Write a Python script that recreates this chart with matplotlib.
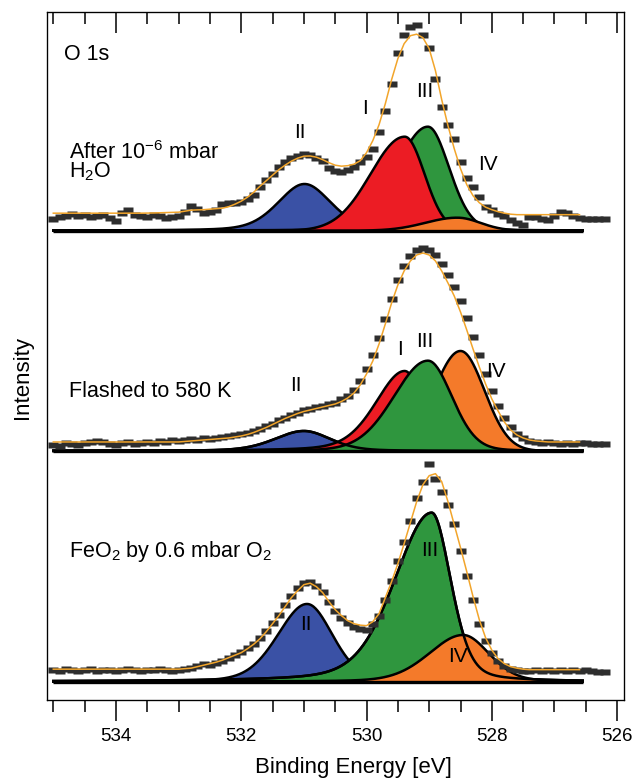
import numpy as np
import matplotlib.pyplot as plt
from matplotlib.ticker import MultipleLocator

plt.rcParams['font.family'] = ['Liberation Sans', 'DejaVu Sans']
plt.rcParams['mathtext.fontset'] = 'custom'
plt.rcParams['mathtext.rm'] = 'Liberation Sans'
plt.rcParams['mathtext.default'] = 'regular'

# measured points: 535.0 -> 526.2 eV in 0.1 eV steps, fit: 535.0 -> 526.6 eV
be_data = np.round(np.arange(535.0, 526.15, -0.1), 1)
be_fit = np.round(np.arange(535.0, 526.55, -0.1), 1)

# intensities above each spectrum's own baseline (arb. units)
top_data = [12, 14, 15, 17, 15, 16, 14, 15, 16, 13,
            10, 18, 21, 16, 15, 14, 16, 15, 13, 14,
            15, 19, 25, 22, 18, 19, 21, 27, 28, 28,
            29, 32, 36, 44, 51, 57, 64, 69, 73, 75,
            77, 76, 73, 70, 63, 60, 59, 61, 64, 69,
            74, 82, 99, 120, 147, 178, 196, 204, 206, 196,
            183, 152, 124, 106, 92, 69, 53, 44, 34, 24,
            21, 17, 15, 11, 8, 6, 14, 14, 12, 11,
            15, 19, 18, 15, 13, 12, 12, 12, 12]
top_fit = [17.5, 17.5, 17.5, 17.5, 17.5, 17.5, 17.5, 17.5, 17.5, 17.5,
           17.5, 17.5, 17.5, 17.5, 17.5, 17.6, 17.7, 17.9, 18.1, 18.3,
           18.5, 19.5, 20.5, 20.8, 21, 21.5, 22, 22.5, 24, 26.5,
           29.5, 33.5, 38.5, 44.5, 50, 55.5, 61, 65.5, 69.5, 72.5,
           74.5, 74.7, 73.5, 71, 68, 65.5, 64.5, 65, 66.5, 70,
           78, 90, 106, 127, 151, 172, 187, 195, 196.5, 193,
           182, 160, 131, 105, 82, 62, 46, 35, 28, 23.5,
           21, 19, 17.5, 16.5, 16, 16, 16, 16, 16, 16,
           16, 16, 16, 16, 16]

mid_data = [6, 5, 8, 7, 6, 8, 9, 10, 9, 7,
            6, 8, 9, 7, 8, 9, 8, 10, 9, 11,
            10, 11, 12, 11, 13, 12, 13, 14, 15, 16,
            17, 18, 20, 22, 25, 27, 31, 33, 36, 38,
            41, 42, 44, 45, 47, 48, 52, 55, 61, 70,
            82, 96, 113, 132, 152, 171, 185, 195, 201, 203,
            201, 196, 187, 176, 164, 150, 133, 114, 96, 77,
            60, 45, 33, 24, 17, 13, 10, 9, 8, 9,
            8, 7, 8, 7, 8, 8, 7, 7, 7]
mid_fit = [9, 9, 9, 9, 9, 9, 9, 9, 9, 9,
           9, 9, 9, 9, 9, 9, 9, 9, 9, 9,
           9, 9.5, 10, 10.5, 11, 11.5, 12, 12.5, 13, 14,
           15, 16.5, 18.5, 21, 23.5, 26.5, 29.5, 32.5, 35, 37.5,
           39.5, 41, 42.5, 44, 45.5, 47, 49.5, 53, 58, 66,
           77, 90, 107, 127, 148, 166, 180, 190, 196, 198,
           196, 190, 180, 168, 155, 139, 121, 102, 84, 67,
           52, 40, 29, 21, 16, 13, 11, 10, 9.5, 9,
           9, 9, 9, 9, 9]

bot_data = [12, 11, 13, 12, 11, 12, 13, 11, 12, 12,
            11, 12, 13, 12, 11, 12, 12, 13, 12, 11,
            12, 13, 14, 16, 18, 17, 19, 21, 24, 27,
            30, 34, 38, 44, 51, 59, 67, 77, 86, 94,
            99, 100, 96, 90, 80, 71, 64, 59, 55, 53,
            52, 58, 66, 82, 101, 121, 140, 161, 184, 200,
            218, 203, 190, 177, 158, 131, 106, 82, 58, 41,
            29, 21, 16, 13, 12, 11, 11, 12, 11, 12,
            11, 12, 11, 12, 11, 12, 11, 10, 10]
bot_fit = [12.5, 12.5, 12.5, 12.5, 12.5, 12.5, 12.5, 12.5, 12.5, 12.5,
           12.5, 12.5, 12.5, 12.5, 12.5, 12.5, 12.5, 12.5, 12.5, 12.5,
           12.5, 13, 13.5, 15, 16.5, 18, 19.5, 21.5, 24, 26.5,
           29, 33, 37.5, 43, 50, 58, 66, 75, 84, 91,
           97, 98.5, 95, 89, 80, 72, 66, 61, 58, 56.5,
           56, 60, 68, 84, 100, 118, 138, 159, 180, 197,
           206, 208, 200, 180, 157, 134, 110, 85, 62, 44,
           31.5, 23, 18, 15, 13.5, 12.5, 12, 12, 12, 12,
           12, 12, 12, 12, 12]

# fitted components: centre (eV), height, HWHM high-BE side, HWHM low-BE side, Lorentz fraction
top_peaks = {'II': (530.99, 46.7, 0.50, 0.50, 0.3),
             'I': (529.39, 94.0, 0.64, 0.37, 0.0),
             'III': (529.02, 104.0, 0.60, 0.40, 0.1),
             'IV': (528.55, 13.0, 0.60, 0.43, 0.0)}
mid_peaks = {'II': (531.00, 20.0, 0.55, 0.50, 0.3),
             'I': (529.39, 80.0, 0.55, 0.35, 0.3),
             'III': (529.02, 90.3, 0.64, 0.45, 0.1),
             'IV': (528.50, 100.0, 0.50, 0.45, 0.0)}
bot_peaks = {'II': (530.95, 77.7, 0.55, 0.48, 0.2),
             'I': (529.37, 3.0, 0.50, 0.40, 0.0),
             'III': (528.96, 169.0, 0.70, 0.36, 0.3),
             'IV': (528.46, 46.7, 0.64, 0.49, 0.2)}

offsets = [469.3, 249.0, 18.3]
comp_colors = {'I': '#ec1c24', 'II': '#3a51a5', 'III': '#2f963e', 'IV': '#f47a2a'}


def peak(x, c, h, w_hi, w_lo, m):
    w = np.where(x >= c, w_hi, w_lo)
    u = ((x - c) / w) ** 2
    return h * ((1 - m) * np.exp(-np.log(2) * u) + m / (1 + u))


fig = plt.figure(figsize=(6.33, 7.78), dpi=100)
ax = fig.add_axes([0.0738, 0.1003, 0.912, 0.8843])

xx = np.linspace(535.0, 526.55, 800)

panels = [(top_data, top_fit, top_peaks, ['II', 'III', 'I', 'IV'], []),
          (mid_data, mid_fit, mid_peaks, ['II', 'I', 'IV', 'III'], ['II']),
          (bot_data, bot_fit, bot_peaks, ['II', 'III', 'I', 'IV'], ['III'])]

for (data, fit, peaks, order, reline), base in zip(panels, offsets):
    z = 2
    for name in order:
        yy = peak(xx, *peaks[name])
        ax.fill_between(xx, base, base + yy, color=comp_colors[name], lw=0, zorder=z)
        ax.plot(xx, base + yy, color='k', lw=1.8, zorder=z + 0.5)
        z += 1
    for name in reline:
        ax.plot(xx, base + peak(xx, *peaks[name]), color='k', lw=1.8, zorder=z)
    ax.plot([535.0, 526.55], [base, base], color='k', lw=2.4, zorder=z + 1,
            solid_capstyle='butt')
    ax.plot(be_data, base + np.array(data), ls='none', marker=[(-1.5, -1), (1.5, -1), (1.5, 1), (-1.5, 1), (-1.5, -1)],
            ms=6.8, mfc='#2e2e2e', mec='none', zorder=z + 2)
    ax.plot(be_fit, base + np.array(fit), color='#f2a52b', lw=1.1, zorder=z + 3)

ax.set_xlim(535.105, 525.89)
ax.set_ylim(0, 688)
ax.set_yticks([])
ax.xaxis.set_major_locator(MultipleLocator(2))
ax.xaxis.set_minor_locator(MultipleLocator(0.5))
ax.tick_params(axis='x', which='both', direction='out', width=1.1, labelsize=13.5, pad=5)
ax.tick_params(axis='x', which='major', length=15)
ax.tick_params(axis='x', which='minor', length=8.5)
for sp in ax.spines.values():
    sp.set_linewidth(0.9)

ax2 = ax.twiny()
ax2.set_xlim(ax.get_xlim())
ax2.xaxis.set_major_locator(MultipleLocator(2))
ax2.xaxis.set_minor_locator(MultipleLocator(0.5))
ax2.tick_params(axis='x', which='both', direction='in', width=1.1, labeltop=False)
ax2.tick_params(axis='x', which='major', length=15)
ax2.tick_params(axis='x', which='minor', length=8.5)
ax2.set_yticks([])

# panel descriptions
fs = 15.5
ax.text(534.83, 645, 'O 1s', fontsize=15.5, ha='left', va='center')
ax.text(534.75, 522.7, 'After 10$^{-6}$ mbar\nH$_2$O', fontsize=fs, ha='left', va='baseline',
        linespacing=0.77)
ax.text(534.75, 303.3, 'Flashed to 580 K', fontsize=fs, ha='left', va='baseline')
ax.text(534.75, 143.3, r'FeO$_2$ by 0.6 mbar O$_2$', fontsize=fs, ha='left', va='baseline')

# component labels
labels = [('II', 531.07, 567.5), ('I', 530.03, 591.7), ('III', 529.07, 608.3), ('IV', 528.06, 535.0),
          ('II', 531.13, 314.3), ('I', 529.46, 350.0), ('III', 529.07, 358.3), ('IV', 527.93, 328.3),
          ('II', 530.97, 75.0), ('III', 528.99, 149.3), ('IV', 528.54, 43.3)]
for txt, xv, yv in labels:
    ax.text(xv, yv, txt, fontsize=15, ha='center', va='center', zorder=20)

fig.text(0.036, 0.515, 'Intensity', rotation=90, fontsize=16, ha='center', va='center')
fig.text(0.558, 0.006, 'Binding Energy [eV]', fontsize=16, ha='center', va='baseline')

fig.savefig('out.png', dpi=100)
